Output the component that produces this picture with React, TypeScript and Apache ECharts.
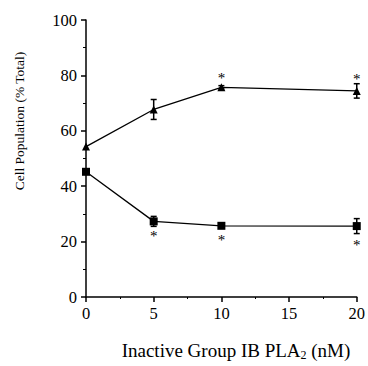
import React, { useEffect, useRef } from "react";
import * as echarts from "echarts";

// Inactive group IB PLA2 dose (nM)
const doses = [0, 5, 10, 20];

// Triangle series: mean ± error (% of total cells)
const triangleMean = [54.3, 67.7, 75.7, 74.4];
const triangleErr = [0, 3.6, 0.6, 2.6];
const triangleSig = [false, false, true, true];

// Square series: mean ± error (% of total cells)
const squareMean = [45.2, 27.3, 25.7, 25.6];
const squareErr = [0, 1.8, 0.6, 2.7];
const squareSig = [false, true, true, true];

const xTicks = [0, 5, 10, 15, 20];
const yTicks = [0, 20, 40, 60, 80, 100];

const FONT = "Liberation Serif";

// Significance asterisks sit above (triangles) or below (squares) each mark,
// pushed clear of the error bar when the bar is long.
function lineData(means: number[], sig: boolean[], above: boolean, errs: number[]) {
  return doses.map((d, i) => ({
    value: [d, means[i]],
    label: {
      show: sig[i],
      formatter: "*",
      position: "inside" as const,
      offset: [0, above ? -9 - (errs[i] > 2 ? 3 : 0) : 14.5 + (errs[i] > 2 ? 4 : 0)],
      fontFamily: FONT,
      fontSize: 15,
      color: "#000",
      textBorderWidth: 0,
    },
  }));
}

function errData(means: number[], errs: number[]) {
  return doses.map((d, i) => [d, means[i] - errs[i], means[i] + errs[i]]);
}

const errorBarItem = (params: any, api: any) => {
  const x = api.value(0);
  const lo = api.value(1);
  const hi = api.value(2);
  if (hi - lo < 0.01) return null;
  const top = api.coord([x, hi]);
  const bot = api.coord([x, lo]);
  const hw = 3;
  const style = { stroke: "#000", lineWidth: 1.5 };
  return {
    type: "group",
    children: [
      { type: "line", shape: { x1: top[0], y1: top[1], x2: bot[0], y2: bot[1] }, style },
      { type: "line", shape: { x1: top[0] - hw, y1: top[1], x2: top[0] + hw, y2: top[1] }, style },
      { type: "line", shape: { x1: bot[0] - hw, y1: bot[1], x2: bot[0] + hw, y2: bot[1] }, style },
    ],
  };
};

export default function App() {
  const ref = useRef<HTMLDivElement>(null);

  useEffect(() => {
    if (!ref.current) return;
    const chart = echarts.init(ref.current, null, { renderer: "svg" });
    chart.setOption({
      animation: false,
      backgroundColor: "#fff",
      color: ["#000"],
      textStyle: { fontFamily: FONT, color: "#000" },
      grid: { left: 86, right: 7, top: 20, bottom: 69 },
      xAxis: {
        type: "value",
        min: xTicks[0],
        max: xTicks[xTicks.length - 1],
        interval: 5,
        axisLine: { show: true, onZero: false, lineStyle: { color: "#000", width: 1.5 } },
        axisTick: { show: true, length: 5, lineStyle: { color: "#000", width: 1.5 } },
        minorTick: { show: true, splitNumber: 2, length: 2, lineStyle: { color: "#000", width: 1 } },
        splitLine: { show: false },
        axisLabel: { color: "#000", fontFamily: FONT, fontSize: 16.5, margin: 8 },
      },
      yAxis: {
        type: "value",
        min: yTicks[0],
        max: yTicks[yTicks.length - 1],
        interval: 20,
        axisLine: { show: true, onZero: false, lineStyle: { color: "#000", width: 1.5 } },
        axisTick: { show: true, length: 5, lineStyle: { color: "#000", width: 1.5 } },
        minorTick: { show: true, splitNumber: 2, length: 3, lineStyle: { color: "#000", width: 1 } },
        splitLine: { show: false },
        axisLabel: {
          color: "#000",
          fontFamily: FONT,
          fontSize: 16.5,
          margin: 9,
          padding: [0, 0, 5, 0],
        },
      },
      series: [
        {
          type: "custom",
          renderItem: errorBarItem,
          data: errData(triangleMean, triangleErr),
          z: 1,
          clip: false,
        },
        {
          type: "custom",
          renderItem: errorBarItem,
          data: errData(squareMean, squareErr),
          z: 1,
          clip: false,
        },
        {
          type: "line",
          data: lineData(triangleMean, triangleSig, true, triangleErr),
          symbol: "triangle",
          symbolSize: [8, 8],
          showAllSymbol: true,
          clip: false,
          z: 3,
          color: "#000",
          lineStyle: { color: "#000", width: 1.3 },
          itemStyle: { color: "#000" },
        },
        {
          type: "line",
          data: lineData(squareMean, squareSig, false, squareErr),
          symbol: "rect",
          symbolSize: 8,
          showAllSymbol: true,
          clip: false,
          z: 3,
          color: "#000",
          lineStyle: { color: "#000", width: 1.3 },
          itemStyle: { color: "#000" },
        },
      ],
      graphic: [
        {
          type: "text",
          x: 19,
          y: 121,
          rotation: Math.PI / 2,
          style: {
            text: "Cell Population (% Total)",
            fontFamily: FONT,
            fontSize: 13.5,
            fill: "#000",
            align: "center",
            verticalAlign: "middle",
          },
        },
        {
          type: "text",
          x: 236,
          y: 350,
          style: {
            text: "Inactive Group IB PLA{sub|2} (nM)",
            fontFamily: FONT,
            fontSize: 19,
            fill: "#000",
            align: "center",
            verticalAlign: "middle",
            rich: {
              sub: { fontFamily: FONT, fontSize: 12, fill: "#000", padding: [9, 0, 0, 0] },
            },
          },
        },
      ],
    });
    return () => chart.dispose();
  }, []);

  return (
    <div
      ref={ref}
      style={{ position: "fixed", left: 0, top: 0, width: 368, height: 366 }}
    />
  );
}
